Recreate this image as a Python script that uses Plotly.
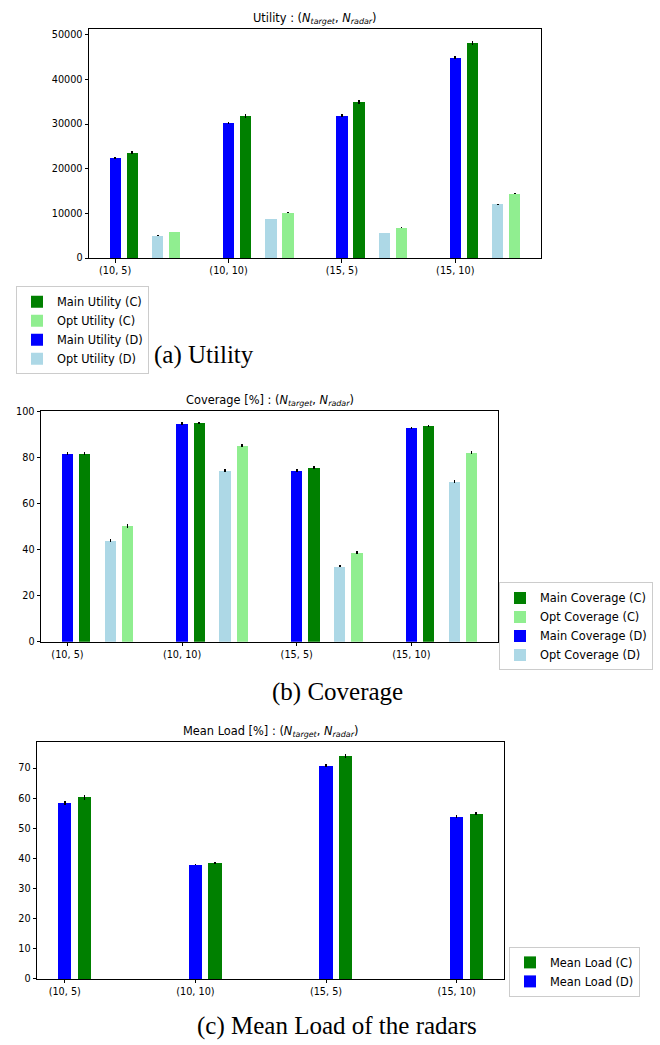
import plotly.graph_objects as go

# ---------------- data ----------------
categories = ["(10, 5)", "(10, 10)", "(15, 5)", "(15, 10)"]

util_main_c = [23600, 31800, 34900, 48200]
util_opt_c = [5850, 10200, 6800, 14500]
util_main_d = [22400, 30250, 31950, 44900]
util_opt_d = [5050, 8750, 5650, 12050]
util_main_c_err = [300, 350, 500, 450]
util_opt_c_err = [60, 60, 80, 80]
util_main_d_err = [300, 300, 400, 400]
util_opt_d_err = [80, 60, 60, 80]

cov_main_c = [81.7, 95.0, 75.6, 93.7]
cov_opt_c = [50.3, 85.1, 38.7, 82.1]
cov_main_d = [81.7, 94.6, 74.4, 92.8]
cov_opt_d = [43.8, 74.4, 32.7, 69.6]
cov_main_c_err = [0.7, 0.5, 0.8, 0.5]
cov_opt_c_err = [0.8, 0.7, 0.6, 0.7]
cov_main_d_err = [0.7, 0.5, 0.7, 0.5]
cov_opt_d_err = [0.7, 0.7, 0.4, 0.7]

load_c = [60.3, 38.5, 74.0, 54.9]
load_d = [58.5, 38.0, 70.8, 53.8]
load_c_err = [0.8, 0.3, 0.8, 0.5]
load_d_err = [0.6, 0.3, 0.6, 0.5]

# ---------------- style ----------------
C_MAIN_C = "#008000"
C_OPT_C = "#90ee90"
C_MAIN_D = "#0000ff"
C_OPT_D = "#add8e6"
W, H = 660, 1045
BAR_W = 0.1
TICK_FONT = dict(family="DejaVu Sans", size=9.7, color="black")
LEG_FONT = dict(family="DejaVu Sans", size=11.4, color="black")

idx = list(range(len(categories)))


def shifted(off):
    return [i + off for i in idx]


fig = go.Figure()


def add_bar(vals, errs, off, color, name, xa, ya, legend):
    fig.add_trace(go.Bar(
        x=shifted(off), y=vals, width=BAR_W, name=name,
        marker=dict(color=color, line=dict(width=0)),
        error_y=dict(type="data", array=errs, color="black", thickness=1.6, width=0),
        xaxis=xa, yaxis=ya, legend=legend,
    ))


# (a) Utility -- legend order: Main C, Opt C, Main D, Opt D
add_bar(util_main_c, util_main_c_err, 0.15, C_MAIN_C, "Main Utility (C)", "x", "y", "legend")
add_bar(util_opt_c, util_opt_c_err, 0.525, C_OPT_C, "Opt Utility (C)", "x", "y", "legend")
add_bar(util_main_d, util_main_d_err, 0.0, C_MAIN_D, "Main Utility (D)", "x", "y", "legend")
add_bar(util_opt_d, util_opt_d_err, 0.375, C_OPT_D, "Opt Utility (D)", "x", "y", "legend")

# (b) Coverage
add_bar(cov_main_c, cov_main_c_err, 0.15, C_MAIN_C, "Main Coverage (C)", "x2", "y2", "legend2")
add_bar(cov_opt_c, cov_opt_c_err, 0.525, C_OPT_C, "Opt Coverage (C)", "x2", "y2", "legend2")
add_bar(cov_main_d, cov_main_d_err, 0.0, C_MAIN_D, "Main Coverage (D)", "x2", "y2", "legend2")
add_bar(cov_opt_d, cov_opt_d_err, 0.375, C_OPT_D, "Opt Coverage (D)", "x2", "y2", "legend2")

# (c) Mean Load
add_bar(load_c, load_c_err, 0.15, C_MAIN_C, "Mean Load (C)", "x3", "y3", "legend3")
add_bar(load_d, load_d_err, 0.0, C_MAIN_D, "Mean Load (D)", "x3", "y3", "legend3")


def px_x(p):
    return p / W


def px_y(p):
    return 1 - p / H


axis_common = dict(showline=True, mirror=True, linecolor="black", linewidth=1,
                   ticks="outside", ticklen=3.5, tickwidth=1, tickcolor="black",
                   tickfont=TICK_FONT, showgrid=False, zeroline=False)

leg_common = dict(xanchor="left", yanchor="top", bordercolor="#cccccc", borderwidth=1,
                  bgcolor="rgba(255,255,255,0.8)", font=LEG_FONT, traceorder="normal",
                  tracegroupgap=0)

fig.update_layout(
    width=W, height=H, margin=dict(l=0, r=0, t=0, b=0),
    paper_bgcolor="white", plot_bgcolor="white",
    barmode="overlay", bargap=0,
    xaxis=dict(domain=[px_x(89), px_x(541)], range=[-0.231, 3.756], anchor="y",
               tickvals=idx, ticktext=categories, **axis_common),
    yaxis=dict(domain=[px_y(255.5), px_y(24)], range=[0, 51330], anchor="x",
               tickvals=[0, 10000, 20000, 30000, 40000, 50000], tickformat="d", **axis_common),
    xaxis2=dict(domain=[px_x(41), px_x(498)], range=[-0.231, 3.756], anchor="y2",
                tickvals=idx, ticktext=categories, **axis_common),
    yaxis2=dict(domain=[px_y(643), px_y(409.5)], range=[0, 100.25], anchor="x2",
                tickvals=[0, 20, 40, 60, 80, 100], **axis_common),
    xaxis3=dict(domain=[px_x(37), px_x(504)], range=[-0.2125, 3.3625], anchor="y3",
                tickvals=idx, ticktext=categories, **axis_common),
    yaxis3=dict(domain=[px_y(983.3), px_y(744)], range=[0, 78.7], anchor="x3",
                tickvals=[0, 10, 20, 30, 40, 50, 60, 70], **axis_common),
    legend=dict(x=px_x(16), y=px_y(284), **leg_common),
    legend2=dict(x=px_x(499), y=px_y(583), **leg_common),
    legend3=dict(x=px_x(509), y=px_y(951), **leg_common),
    showlegend=True,
)

TITLE_FONT = dict(family="DejaVu Sans", size=11.4, color="black")
NSUB = "(<i>N</i><sub><i>target</i></sub>, <i>N</i><sub><i>radar</i></sub>)"
titles = [
    ("Utility : " + NSUB, 315, 14),
    ("Coverage [%] : " + NSUB, 269.5, 399),
    ("Mean Load [%] : " + NSUB, 270.5, 734),
]
for text, cx, cy in titles:
    fig.add_annotation(text=text, x=px_x(cx), y=px_y(cy), xref="paper", yref="paper",
                       xanchor="center", yanchor="middle", showarrow=False, font=TITLE_FONT)

CAP_FONT = dict(family="Liberation Serif", size=25, color="black")
captions = [
    ("(a) Utility", 152, 353, "left"),
    ("(b) Coverage", 337, 694, "center"),
    ("(c) Mean Load of the radars", 337, 1031, "center"),
]
for text, cx, cy, anc in captions:
    fig.add_annotation(text=text, x=px_x(cx), y=px_y(cy), xref="paper", yref="paper",
                       xanchor=anc, yanchor="middle", showarrow=False, font=CAP_FONT)

fig.write_html("out.html", config={"displayModeBar": False},
               post_script="document.body.style.margin='0px';document.body.style.overflow='hidden';")
